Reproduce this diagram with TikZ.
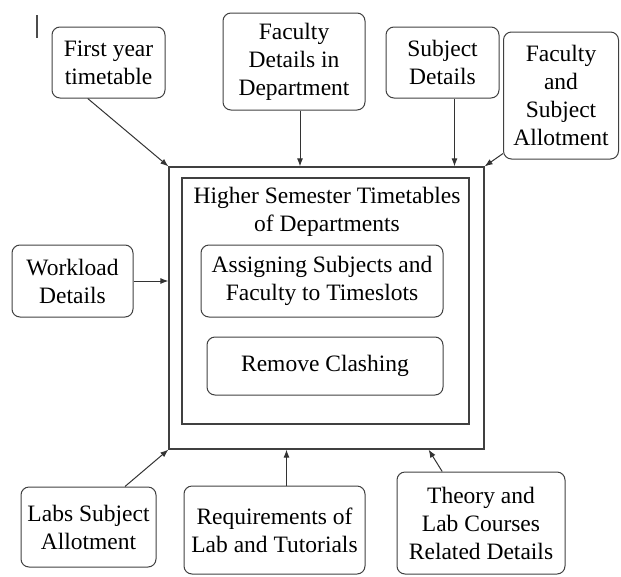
\documentclass[tikz,border=0pt]{standalone}
\usepackage{fontspec}
\setmainfont{Liberation Serif}
\usetikzlibrary{arrows.meta}
\tikzset{
	box/.style={draw=black!75, line width=1pt, rounded corners=8pt, align=center, inner sep=0pt},
	frame/.style={draw=black!75, line width=1.2pt, inner sep=0pt},
	arr/.style={draw=black!80, line width=1pt, -{Latex[length=8pt,width=6pt]}}
}
\begin{document}
\begin{tikzpicture}[x=1pt,y=-1pt]
		\fontsize{23.5}{28}\selectfont
		\useasboundingbox (0,0) rectangle (621,576);
		% Main box
		\node[frame, minimum width=315pt, minimum height=282pt] (outer) at (326.5,308) {};
		\node[frame, minimum width=287pt, minimum height=246pt] (inner) at (325.5,301) {};
		\node[align=center] (title) at (327,212) {Higher Semester Timetables\\of Departments};
		\node[box, minimum width=242pt, minimum height=72pt] (assign) at (322,281) {Assigning Subjects and\\Faculty to Timeslots};
		\node[box, minimum width=236pt, minimum height=58pt] (clash) at (325,366) {Remove Clashing};
		% Inputs
		\node[box, minimum width=113pt, minimum height=71pt] (first) at (108.5,62.5) {First year\\timetable};
		\node[box, minimum width=142pt, minimum height=97pt] (facdep) at (294,61.5) {Faculty\\Details in\\Department};
		\node[box, minimum width=113pt, minimum height=71pt] (subj) at (442.5,62.5) {Subject\\Details};
		\node[box, minimum width=115pt, minimum height=127pt] (facall) at (561,95.5) {Faculty\\and\\Subject\\Allotment};
		\node[box, minimum width=121pt, minimum height=72pt] (work) at (72.5,281) {Workload\\Details};
		\node[box, minimum width=135pt, minimum height=80pt] (labs) at (88.5,527) {Labs Subject\\Allotment};
		\node[box, minimum width=181pt, minimum height=88pt] (req) at (274.5,530) {Requirements of\\Lab and Tutorials};
		\node[box, minimum width=168pt, minimum height=102pt] (theory) at (481,523) {Theory and\\Lab Courses\\Related Details};
		% Stray mark
		\draw[black!70, line width=1.5pt] (37,15) -- (37,38);
		% Arrows
		\draw[arr] (first.240) -- (outer.north west);
		\draw[arr] ([xshift=6pt]facdep.south) -- ([xshift=6pt]facdep.south |- outer.north);
		\draw[arr] ([xshift=12pt]subj.south) -- ([xshift=12pt]subj.south |- outer.north);
		\draw[arr] (facall.225) -- (outer.north east);
		\draw[arr] (work.east) -- (work.east -| outer.west);
		\draw[arr] (labs.48) -- (outer.south west);
		\draw[arr] ([xshift=12pt]req.north) -- ([xshift=12pt]req.north |- outer.south);
		\draw[arr] (theory.127) -- ([xshift=-56pt]outer.south east);
	\end{tikzpicture}
\end{document}
